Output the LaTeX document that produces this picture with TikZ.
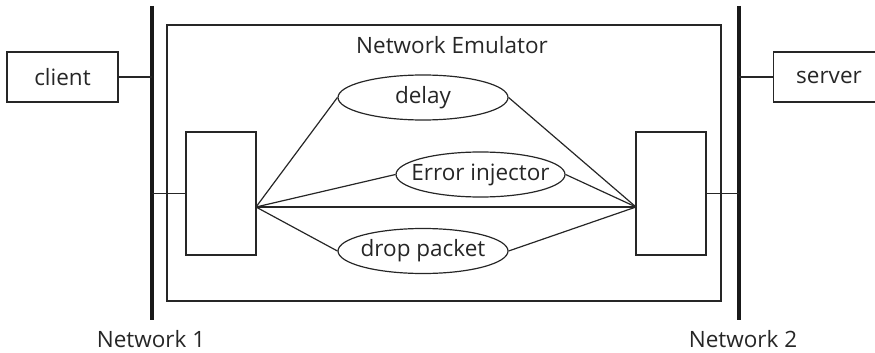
\documentclass[tikz,border=0pt]{standalone}
\usepackage{fontspec}
\setmainfont{Open Sans}
\usetikzlibrary{shapes.geometric}
\begin{document}
\begin{tikzpicture}[x=1pt,y=-1pt,
  thin line/.style={line width=1.2pt, draw=black!85},
  bus/.style={line width=3.2pt, draw=black!90},
  hostbox/.style={thin line, rectangle, minimum width=111pt, minimum height=50pt, inner sep=0pt},
  portbox/.style={thin line, rectangle, minimum width=70pt, minimum height=123pt, inner sep=0pt},
  func/.style={thin line, ellipse, minimum width=170pt, minimum height=45pt, inner sep=0pt},
  lbl/.style={font=\fontsize{22.5}{26}\selectfont, text=black!85, inner sep=0pt}]
\useasboundingbox (0,0) rectangle (875,353);
% emulator frame
\node[thin line, rectangle, minimum width=554pt, minimum height=276pt, inner sep=0pt] (emu) at (444,163) {};
\node[lbl] (emutitle) at (452,45) {Network Emulator};
% network buses
\coordinate (n1top) at (152,6);
\coordinate (n1bot) at (152,320);
\coordinate (n2top) at (739,6);
\coordinate (n2bot) at (739,320);
\draw[bus] (n1top) -- (n1bot);
\draw[bus] (n2top) -- (n2bot);
\node[lbl] (n1lbl) at (151,339) {Network 1};
\node[lbl] (n2lbl) at (743,339) {Network 2};
% hosts
\node[hostbox] (client) at (62.5,77) {};
\node[lbl] (clienttxt) at (client) {client};
\node[hostbox] (server) at (829,77) {};
\node[lbl] (servertxt) at (server) {server};
\draw[thin line] (client.east) -- (client.east -| n1top);
\draw[thin line] (server.west) -- (server.west -| n2top);
% emulator ports
\node[portbox] (lport) at (221,193.5) {};
\node[portbox] (rport) at (671,193.5) {};
\draw[thin line] (lport.west) -- (lport.west -| n1top);
\draw[thin line] (rport.east) -- (rport.east -| n2top);
\coordinate (lhub) at (256,207);
\coordinate (rhub) at (636,207);
% emulated impairments
\node[func] (delay) at (423,97.5) {};
\node[lbl] (delaytxt) at (delay) {delay};
\node[func, minimum width=169pt] (err) at (480.5,174.5) {};
\node[lbl] (errtxt) at (err) {Error injector};
\node[func] (drop) at (423,251) {};
\node[lbl] (droptxt) at (drop) {drop packet};
\draw[thin line] (lhub) -- (delay.west);
\draw[thin line] (delay.east) -- (rhub);
\draw[thin line] (lhub) -- (err.west);
\draw[thin line] (err.east) -- (rhub);
\draw[thin line] (lhub) -- (rhub);
\draw[thin line] (lhub) -- (drop.west);
\draw[thin line] (drop.east) -- (rhub);
\end{tikzpicture}
\end{document}
